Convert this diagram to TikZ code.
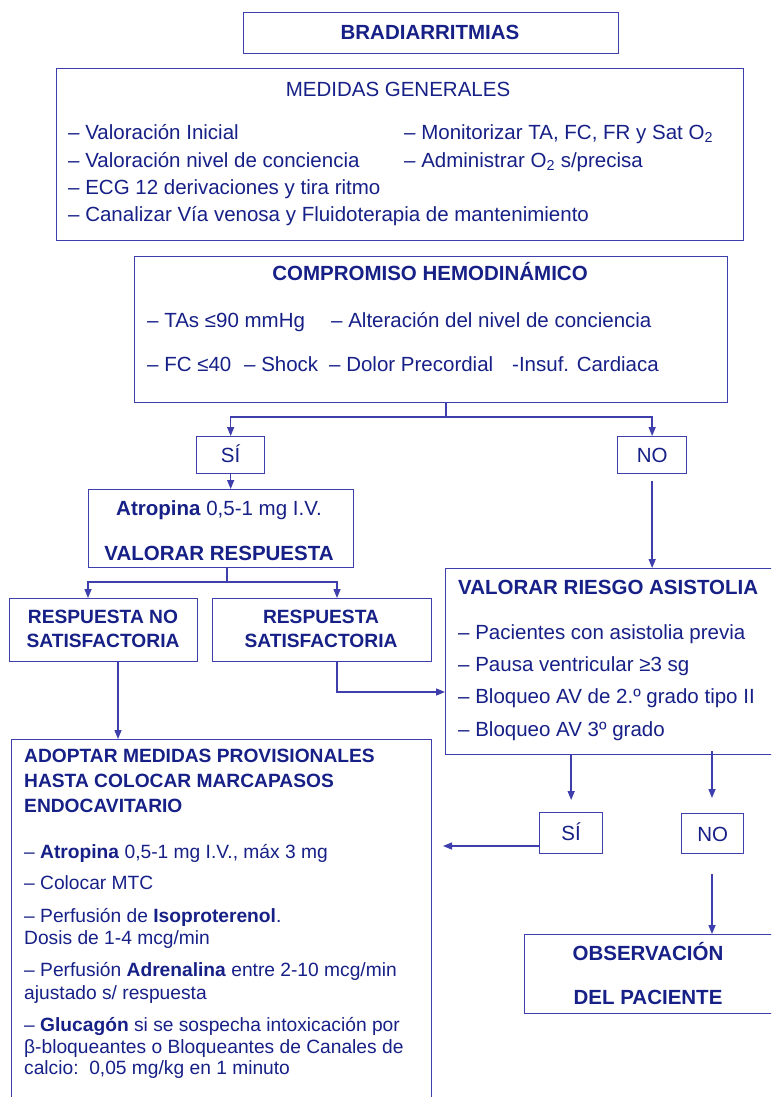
\documentclass[tikz,border=0pt]{standalone}
\usepackage{fontspec}
\setmainfont{Liberation Sans}
\usetikzlibrary{arrows.meta,calc}
\definecolor{lc}{RGB}{62,62,172}
\definecolor{tc}{RGB}{22,32,135}
\newcommand{\fsz}{\fontsize{20.5}{24}\selectfont}
\newcommand{\fss}{\fontsize{19.2}{22}\selectfont}
\tikzset{
  box/.style={draw=lc, line width=1.3pt, inner sep=0pt, anchor=north west},
  txt/.style={text=tc, inner sep=0pt, font=\fsz, text height=14.7pt, text depth=0pt},
  stxt/.style={text=tc, inner sep=0pt, font=\fss, text height=13.7pt, text depth=0pt},
  ln/.style={draw=lc, line width=1.4pt},
  arr/.style={draw=lc, line width=1.4pt, -{Triangle[length=9pt,width=7pt]}}
}
\begin{document}
\begin{tikzpicture}[x=1pt,y=-1pt]
\useasboundingbox (0,0) rectangle (771,1097);
\clip (0,0) rectangle (771,1097);
\fill[white] (0,0) rectangle (771,1097);
% boxes
\node[box, minimum width=375, minimum height=41] (brad) at (243,12) {};
\node[box, minimum width=687, minimum height=172] (med) at (56,68) {};
\node[box, minimum width=593, minimum height=146] (comp) at (134,256) {};
\node[box, minimum width=68, minimum height=37] (si1) at (196,436) {};
\node[box, minimum width=69, minimum height=37] (no1) at (617,436) {};
\node[box, minimum width=265, minimum height=78] (atr) at (88,489) {};
\node[box, minimum width=188, minimum height=63] (rno) at (9,598) {};
\node[box, minimum width=219, minimum height=63] (rsat) at (212,598) {};
\node[box, minimum width=345, minimum height=186] (val) at (445,568) {};
\node[box, minimum width=420, minimum height=371] (adop) at (11,739) {};
\node[box, minimum width=63, minimum height=41] (si2) at (539,812) {};
\node[box, minimum width=62, minimum height=40] (no2) at (681,813) {};
\node[box, minimum width=266, minimum height=79] (obs) at (524,934) {};
% texts
\node[txt] (tbrad) at (430,32) {\bfseries BRADIARRITMIAS};
\node[txt] (tmed) at (398,89) {MEDIDAS GENERALES};
\node[txt, anchor=west] (m1) at (68,132) {– Valoración Inicial};
\node[txt, anchor=west] (m2) at (68,160) {– Valoración nivel de conciencia};
\node[txt, anchor=west] (m3) at (68,187) {– ECG 12 derivaciones y tira ritmo};
\node[txt, anchor=west] (m4) at (68,214) {– Canalizar Vía venosa y Fluidoterapia de mantenimiento};
\node[txt, anchor=west] (m5) at (404,132) {– Monitorizar TA, FC, FR y Sat O\textsubscript{2}};
\node[txt, anchor=west] (m6) at (404,160) {– Administrar O\textsubscript{2} s/precisa};
\node[txt] (tcomp) at (430,273) {\bfseries COMPROMISO HEMODINÁMICO};
\node[txt, anchor=west] (c1t) at (147,320) {– TAs ≤90 mmHg};
\node[txt, anchor=west] (c2t) at (331,320) {– Alteración del nivel de conciencia};
\node[txt, anchor=west] (c3t) at (147,364) {– FC ≤40};
\node[txt, anchor=west] (c4t) at (244,364) {– Shock};
\node[txt, anchor=west] (c5t) at (329,364) {– Dolor Precordial};
\node[txt, anchor=west] (c6t) at (512,364) {-Insuf. Cardiaca};
\node[txt] (tsi1) at (si1.center) {SÍ};
\node[txt] (tno1) at (no1.center) {NO};
\node[txt] (ta1) at (219,508) {\textbf{Atropina} 0,5-1 mg I.V.};
\node[txt] (ta2) at (219,553) {\bfseries VALORAR RESPUESTA};
\node[stxt] (tr1) at (103,617) {\bfseries RESPUESTA NO};
\node[stxt] (tr2) at (103,641) {\bfseries SATISFACTORIA};
\node[stxt] (tr3) at (321,617) {\bfseries RESPUESTA};
\node[stxt] (tr4) at (321,641) {\bfseries SATISFACTORIA};
\node[txt, anchor=west] (tv0) at (458,587) {\bfseries VALORAR RIESGO ASISTOLIA};
\node[txt, anchor=west] (tv1) at (458,632) {– Pacientes con asistolia previa};
\node[txt, anchor=west] (tv2) at (458,664) {– Pausa ventricular ≥3 sg};
\node[txt, anchor=west] (tv3) at (458,696) {– Bloqueo AV de 2.º grado tipo II};
\node[txt, anchor=west] (tv4) at (458,729) {– Bloqueo AV 3º grado};
\node[stxt, anchor=west] (ad1) at (24,756) {\bfseries ADOPTAR MEDIDAS PROVISIONALES};
\node[stxt, anchor=west] (ad2) at (24,781) {\bfseries HASTA COLOCAR MARCAPASOS};
\node[stxt, anchor=west] (ad3) at (24,806) {\bfseries ENDOCAVITARIO};
\node[stxt, anchor=west] (ai1) at (24,852) {– \textbf{Atropina} 0,5-1 mg I.V., máx 3 mg};
\node[stxt, anchor=west] (ai2) at (24,883) {– Colocar MTC};
\node[stxt, anchor=west] (ai3) at (24,916) {– Perfusión de \textbf{Isoproterenol}.};
\node[stxt, anchor=west] (ai4) at (24,938) {Dosis de 1-4 mcg/min};
\node[stxt, anchor=west] (ai5) at (24,970) {– Perfusión \textbf{Adrenalina} entre 2-10 mcg/min};
\node[stxt, anchor=west] (ai6) at (24,993) {ajustado s/ respuesta};
\node[stxt, anchor=west] (ai7) at (24,1025) {– \textbf{Glucagón} si se sospecha intoxicación por};
\node[stxt, anchor=west] (ai8) at (24,1047) {β-bloqueantes o Bloqueantes de Canales de};
\node[stxt, anchor=west] (ai9) at (24,1068) {calcio:\ \ 0,05 mg/kg en 1 minuto};
\node[txt] (tsi2) at (si2.center) {SÍ};
\node[txt] (tno2) at (no2.center) {NO};
\node[txt] (to1) at (648,953) {\bfseries OBSERVACIÓN};
\node[txt] (to2) at (648,997) {\bfseries DEL PACIENTE};
% coordinates
\coordinate (c1) at (446,402);
\coordinate (j1) at (446,417);
\coordinate (c2) at (227,567);
\coordinate (j2) at (227,582);
\coordinate (t2) at (88,598);
\coordinate (t3) at (337,598);
\coordinate (c4) at (118,661);
\coordinate (c5) at (337,661);
\coordinate (t5) at (445,692);
\coordinate (c7) at (712,751);
\coordinate (t7) at (712,798);
\coordinate (c8) at (539,846);
\coordinate (t8) at (443,846);
\coordinate (c9) at (712,874);
\coordinate (t9) at (712,934);
% connectors
\draw[ln] (c1) -- (j1);
\draw[arr] (j1) -| (si1.north);
\draw[arr] (j1) -| (no1.north);
\draw[arr] (si1.south) -- (si1.south |- atr.north);
\draw[arr, shorten <=7pt] (no1.south) -- (no1.south |- val.north);
\draw[ln] (c2) -- (j2);
\draw[arr] (j2) -| (t2);
\draw[arr] (j2) -| (t3);
\draw[arr] (c4) -- (c4 |- adop.north);
\draw[arr] (c5) |- (t5);
\draw[arr, shorten >=12pt] (si2.north |- val.south) -- (si2.north);
\draw[arr] (c7) -- (t7);
\draw[arr] (c8) -- (t8);
\draw[arr] (c9) -- (t9);
\end{tikzpicture}
\end{document}
